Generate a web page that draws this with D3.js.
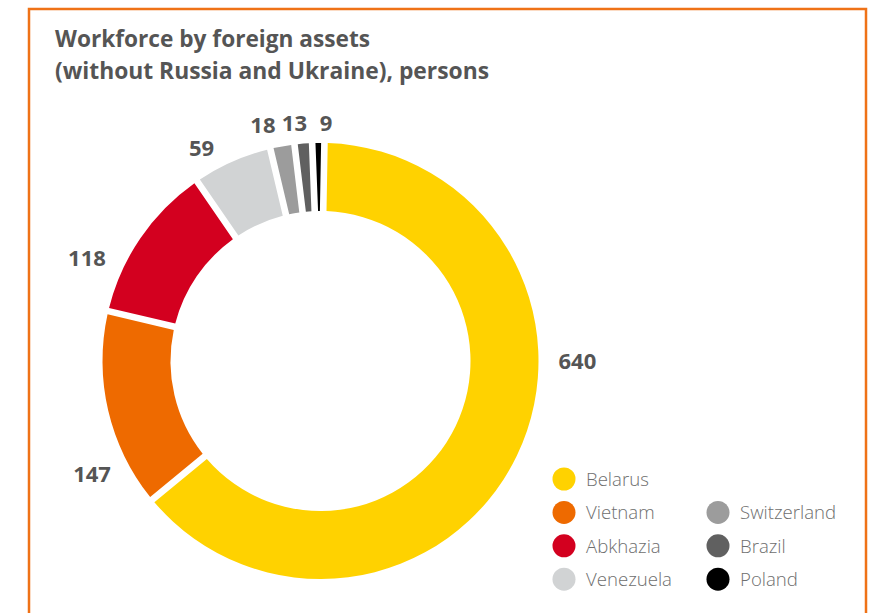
<!DOCTYPE html>
<html lang="en">
<head>
<meta charset="UTF-8">
<title>Workforce by foreign assets</title>
<script src="https://d3js.org/d3.v7.min.js"></script>
<style>
    body { margin: 0; background: #fff; font-family: "Open Sans", "Noto Sans", Arial, sans-serif; }
    .title { font-size: 23px; font-weight: 700; fill: #555; }
    .value-label { font-size: 22px; font-weight: 700; fill: #555; text-anchor: middle; }
    .legend-label { font-size: 18.6px; font-weight: 300; fill: #6e6e6e; }
</style>
</head>
<body>
<div id="chart"></div>
<script>
// data
const countries = ["Belarus", "Vietnam", "Abkhazia", "Venezuela", "Switzerland", "Brazil", "Poland"];
const persons = [640, 147, 118, 59, 18, 13, 9];
const colors = ["#FFD200", "#EE6A00", "#D3001F", "#D1D3D4", "#9C9C9C", "#606060", "#000000"];
const titleLines = ["Workforce by foreign assets", "(without Russia and Ukraine), persons"];

const width = 879, height = 613;
const cx = 320.5, cy = 361;
const outerR = 218, innerR = 150, labelR = 238;
const rot = 0.018; // whole ring is turned a touch clockwise

const svg = d3.select("#chart").append("svg")
    .attr("width", width)
    .attr("height", height);

// orange frame, open at the bottom edge
svg.append("rect")
    .attr("x", 29).attr("y", 9)
    .attr("width", 837).attr("height", 640)
    .attr("fill", "none")
    .attr("stroke", "#EF7217")
    .attr("stroke-width", 2.5);

svg.selectAll(".title")
    .data(titleLines)
    .enter().append("text")
    .attr("class", "title")
    .attr("x", 55)
    .attr("y", (d, i) => 47 + i * 32)
    .attr("textLength", (d, i) => i === 0 ? 315 : 434)
    .attr("lengthAdjust", "spacingAndGlyphs")
    .text(d => d);

// proportional slices, the gaps are cut out of each slice by the arc
const pie = d3.pie()
    .sort(null)
    .value(d => d)
    .startAngle(rot)
    .endAngle(2 * Math.PI + rot);

const arc = d3.arc()
    .innerRadius(innerR)
    .outerRadius(outerR)
    .padAngle(0.025);

const arcs = pie(persons);

const g = svg.append("g")
    .attr("transform", `translate(${cx},${cy})`);

g.selectAll("path")
    .data(arcs)
    .enter().append("path")
    .attr("d", arc)
    .attr("fill", (d, i) => colors[i]);

// labels sit a quarter of the way into the slice; the dominant slice gets its label on the right side
function labelAngle(d) {
    const span = d.endAngle - d.startAngle;
    if (span > Math.PI) return Math.PI / 2;
    return d.startAngle + span * 0.25;
}

const labels = g.selectAll(".value-label")
    .data(arcs)
    .enter().append("text")
    .attr("class", "value-label")
    .attr("dy", "0.36em")
    .text(d => d.data);

const pos = [];
labels.each(function(d) {
    const a = labelAngle(d);
    const s = Math.sin(a);
    const r = labelR + Math.abs(s) * this.getComputedTextLength() / 2;
    pos.push({ x: r * Math.sin(a), y: -r * Math.cos(a), top: Math.abs(s) < 0.3 });
});

// spread the crowded labels above the ring into an even row
const topRow = pos.filter(p => p.top).sort((a, b) => a.x - b.x);
const minGap = 31.5;
if (topRow.length > 1 && d3.pairs(topRow).some(([a, b]) => b.x - a.x < minGap)) {
    const mid = d3.mean(topRow, p => p.x);
    topRow.forEach((p, i) => { p.x = mid + (i - (topRow.length - 1) / 2) * minGap; });
}

labels
    .attr("x", (d, i) => pos[i].x)
    .attr("y", (d, i) => pos[i].y);

// legend: first column holds four items, second column starts one row lower
const legend = svg.append("g")
    .attr("transform", "translate(564,479)");

const item = legend.selectAll(".legend-item")
    .data(countries)
    .enter().append("g")
    .attr("class", "legend-item")
    .attr("transform", (d, i) => {
        const col = i < 4 ? 0 : 1;
        const row = i < 4 ? i : i - 3;
        return `translate(${col * 154},${row * 33.4})`;
    });

item.append("circle")
    .attr("r", 11.5)
    .attr("fill", (d, i) => colors[i]);

item.append("text")
    .attr("class", "legend-label")
    .attr("x", 22)
    .attr("dy", "0.36em")
    .text(d => d);
</script>
</body>
</html>
